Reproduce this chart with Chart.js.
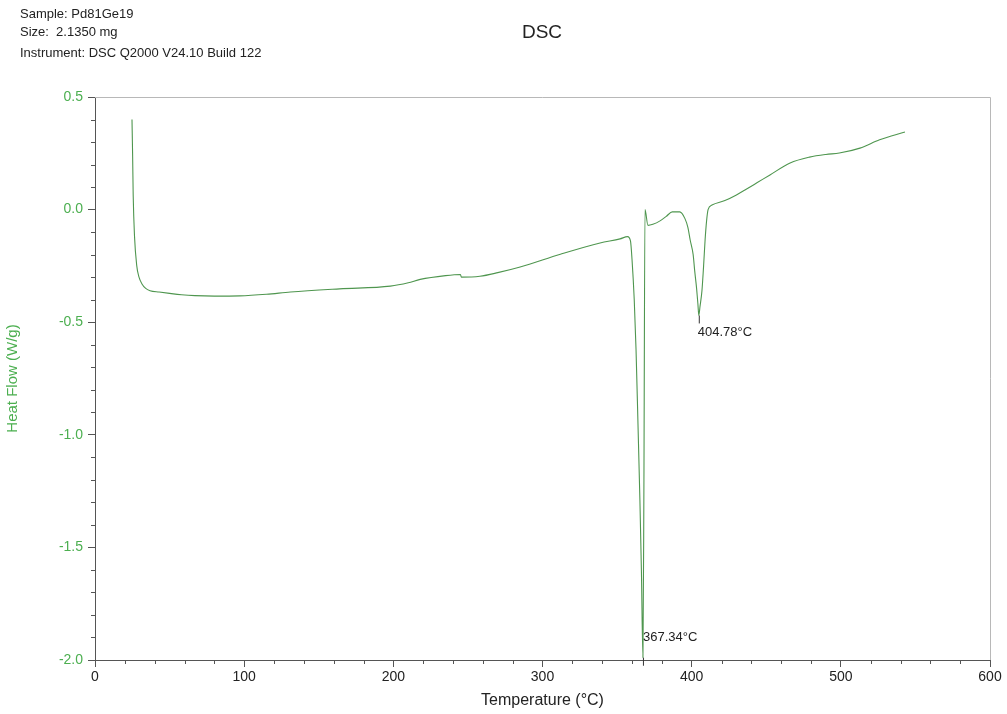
<!DOCTYPE html>
<html>
<head>
<meta charset="utf-8">
<script src="https://cdn.jsdelivr.net/npm/chart.js@4.4.1/dist/chart.umd.min.js"></script>
<style>
  html, body { margin: 0; padding: 0; background: #fff; }
</style>
</head>
<body>
<canvas id="grafico1" width="1007" height="714"></canvas>
<script>
const ctx = document.getElementById('grafico1');

// DSC curve
let temps = [24.8, 25.2, 25.6, 26.5, 28, 29.5, 31.5, 34, 36.9, 43, 50, 58, 67, 80, 97, 115, 131, 164, 198, 210, 218, 235, 245, 245.6, 258, 270, 285, 312, 338.6, 352, 357,
  359, 360, 361.5, 362.7, 364, 365.3, 366.3, 367.34, 368, 368.7, 370.7, 374, 378.8, 383, 387, 392, 395.5, 397.5, 399, 401, 402, 403.3, 404.2, 404.78,
  405.6, 406.9, 408, 409, 410, 411, 413.6, 422.3, 430, 435.7, 444, 452.5, 466, 479, 490, 499, 512.8, 526, 543]
let heatFlow = [0.40, 0.25, 0.065, -0.12, -0.25, -0.30, -0.33, -0.35, -0.36, -0.366, -0.372, -0.378, -0.382, -0.384, -0.383, -0.376, -0.366, -0.352, -0.34, -0.325, -0.31, -0.293, -0.288, -0.30, -0.296, -0.28, -0.255, -0.198, -0.148, -0.13, -0.12,
  -0.14, -0.22, -0.40, -0.62, -0.95, -1.29, -1.60, -1.99, -1.2, 0.0, -0.07, -0.065, -0.05, -0.03, -0.01, -0.01, -0.04, -0.08, -0.135, -0.2, -0.27, -0.35, -0.42, -0.47,
  -0.43, -0.36, -0.25, -0.135, -0.05, 0.0, 0.02, 0.04, 0.065, 0.087, 0.12, 0.154, 0.207, 0.233, 0.245, 0.251, 0.273, 0.31, 0.345]

let xTicks = [0, 100, 200, 300, 400, 500, 600]
let yTicks = [0.5, 0.0, -0.5, -1.0, -1.5, -2.0]
let infoLines = ['Sample: Pd81Ge19', 'Size:  2.1350 mg', 'Instrument: DSC Q2000 V24.10 Build 122']
let peakLabels = [{ t: 367.34, v: -1.99, text: '367.34°C' }, { t: 404.78, v: -0.47, text: '404.78°C' }]

const verde = '#4f964f'
const pontos = temps.map((t, i) => ({ x: t, y: heatFlow[i] }))

const extras = {
  id: 'extras',
  afterDraw(chart) {
    const c = chart.ctx
    const a = chart.chartArea
    const sx = chart.scales.x, sy = chart.scales.y
    c.save()
    // frame
    c.strokeStyle = '#b8b8b8'
    c.lineWidth = 1
    c.beginPath()
    c.moveTo(a.left, a.top + 0.5); c.lineTo(a.right + 0.5, a.top + 0.5); c.lineTo(a.right + 0.5, a.bottom)
    c.stroke()
    // minor ticks
    c.strokeStyle = '#555'
    c.beginPath()
    for (let t = 0; t <= 600; t += 20) {
      if (t % 100 === 0) continue
      const px = Math.round(sx.getPixelForValue(t)) + 0.5
      c.moveTo(px, a.bottom); c.lineTo(px, a.bottom + 4)
    }
    for (let v = -2.0; v <= 0.5001; v += 0.1) {
      if (Math.abs(v * 2 - Math.round(v * 2)) < 1e-6) continue
      const py = Math.round(sy.getPixelForValue(v)) + 0.5
      c.moveTo(a.left - 4, py); c.lineTo(a.left, py)
    }
    c.stroke()
    // header text
    c.fillStyle = '#222'
    c.font = '13px "Liberation Sans", Arial, sans-serif'
    c.textBaseline = 'middle'
    c.textAlign = 'left'
    infoLines.forEach((s, i) => c.fillText(s, 20, [14, 32, 53][i]))
    c.font = '19px "Liberation Sans", Arial, sans-serif'
    c.textAlign = 'center'
    c.fillText('DSC', 542, 33)
    // peak labels
    c.font = '13px "Liberation Sans", Arial, sans-serif'
    c.textAlign = 'left'
    peakLabels.forEach(p => {
      const px = sx.getPixelForValue(p.t), py = sy.getPixelForValue(p.v)
      c.strokeStyle = '#333'
      c.beginPath(); c.moveTo(px + 0.5, py); c.lineTo(px + 0.5, py + 8); c.stroke()
      c.fillText(p.text, px + (p.v < -1.5 ? 0 : -1), p.v < -1.5 ? py - 20 : py + 17)
    })
    c.restore()
  }
}

let grafico1 = new Chart(ctx, {
  type: 'scatter',
  data: {
    datasets: [{
      label: 'Heat Flow',
      data: pontos,
      showLine: true,
      borderColor: verde,
      borderWidth: 1.1,
      pointRadius: 0,
      cubicInterpolationMode: 'monotone'
    }]
  },
  options: {
    responsive: false,
    animation: false,
    layout: { padding: { top: 97, right: 17, left: 0, bottom: 0 } },
    plugins: { legend: { display: false }, tooltip: { enabled: false } },
    scales: {
      x: {
        type: 'linear', min: 0, max: 600,
        afterFit: s => { s.height = 54 },
        afterBuildTicks: s => { s.ticks = xTicks.map(v => ({ value: v })) },
        grid: { drawOnChartArea: false, tickLength: 7, color: '#555' },
        border: { color: '#555' },
        ticks: { color: '#222', font: { size: 14, family: '"Liberation Sans", Arial' }, padding: 2, maxRotation: 0 },
        title: { display: true, text: 'Temperature (°C)', color: '#222', font: { size: 16, family: '"Liberation Sans", Arial' }, padding: { top: 7 } }
      },
      y: {
        type: 'linear', min: -2.0, max: 0.5,
        afterFit: s => { s.width = 95 },
        afterBuildTicks: s => { s.ticks = yTicks.map(v => ({ value: v })) },
        grid: { drawOnChartArea: false, tickLength: 7, color: '#555' },
        border: { color: '#555' },
        ticks: { color: '#4caf50', font: { size: 14, family: '"Liberation Sans", Arial' }, padding: 5, callback: v => v.toFixed(1) },
        title: { display: true, text: 'Heat Flow (W/g)', color: '#4caf50', font: { size: 15, family: '"Liberation Sans", Arial' }, padding: { bottom: 12 } }
      }
    }
  },
  plugins: [extras]
})
</script>
</body>
</html>
